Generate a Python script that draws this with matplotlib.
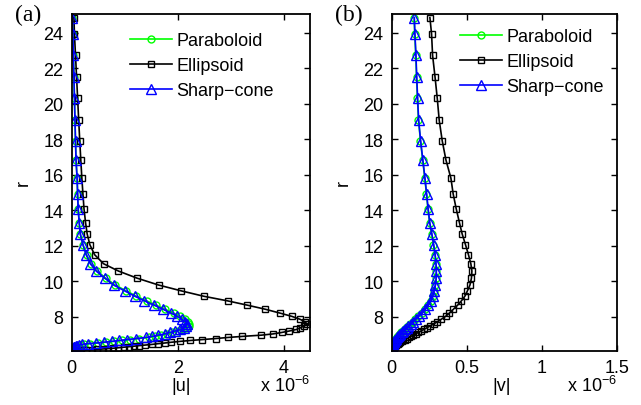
import matplotlib
matplotlib.use("Agg")
import matplotlib.pyplot as plt

plt.rcParams['font.family'] = ['Liberation Sans', 'DejaVu Sans']
plt.rcParams['mathtext.default'] = 'regular'

# radial positions (shared grid for all three bodies)
r = [24.85, 23.94, 22.72, 21.52, 20.31, 19.08, 17.92, 16.83, 15.81, 14.93,
     14.10, 13.30, 12.67, 12.07, 11.50, 10.99, 10.58, 10.18, 9.79, 9.46,
     9.16, 8.90, 8.66, 8.43, 8.21, 8.03, 7.86, 7.72, 7.60, 7.48,
     7.38, 7.29, 7.20, 7.12, 7.04, 6.97, 6.90, 6.84, 6.78, 6.72,
     6.67, 6.62, 6.57, 6.53, 6.49, 6.45, 6.41, 6.38, 6.35, 6.32,
     6.29, 6.26, 6.23, 6.21, 6.19, 6.17, 6.15, 6.13, 6.12, 6.11, 6.10]

# |u| in units of 1e-6
u_para = [0.01, 0.02, 0.03, 0.04, 0.05, 0.06, 0.07, 0.08, 0.10, 0.11,
          0.12, 0.14, 0.16, 0.21, 0.28, 0.36, 0.48, 0.64, 0.82, 1.03,
          1.22, 1.41, 1.59, 1.76, 1.92, 2.04, 2.13, 2.19, 2.22, 2.21,
          2.17, 2.10, 2.00, 1.90, 1.80, 1.68, 1.57, 1.45, 1.27, 1.10,
          0.95, 0.80, 0.64, 0.50, 0.34, 0.23, 0.15, 0.11, 0.08, 0.06,
          0.05, 0.04, 0.03, 0.02, 0.02, 0.01, 0.01, 0.0, 0.0, 0.0, 0.0]
u_ell = [0.04, 0.05, 0.07, 0.09, 0.11, 0.13, 0.15, 0.17, 0.19, 0.21,
         0.23, 0.26, 0.29, 0.34, 0.43, 0.60, 0.88, 1.23, 1.64, 2.07,
         2.49, 2.94, 3.31, 3.65, 3.93, 4.15, 4.31, 4.40, 4.44, 4.38,
         4.31, 4.24, 4.10, 3.96, 3.80, 3.58, 3.22, 2.95, 2.72, 2.46,
         2.24, 2.05, 1.88, 1.76, 1.63, 1.52, 1.38, 1.27, 1.18, 1.08,
         0.98, 0.88, 0.77, 0.68, 0.58, 0.48, 0.38, 0.27, 0.18, 0.09, 0.0]
u_cone = [0.01, 0.02, 0.03, 0.04, 0.05, 0.06, 0.07, 0.08, 0.10, 0.11,
          0.12, 0.14, 0.16, 0.21, 0.27, 0.35, 0.46, 0.62, 0.79, 1.00,
          1.19, 1.37, 1.55, 1.72, 1.87, 1.99, 2.08, 2.14, 2.17, 2.16,
          2.12, 2.05, 1.95, 1.85, 1.75, 1.63, 1.52, 1.40, 1.22, 1.05,
          0.90, 0.75, 0.60, 0.46, 0.30, 0.20, 0.13, 0.10, 0.07, 0.05,
          0.04, 0.03, 0.02, 0.02, 0.01, 0.01, 0.01, 0.0, 0.0, 0.0, 0.0]

# |v| in units of 1e-6
v_para = [0.150, 0.154, 0.161, 0.166, 0.172, 0.179, 0.192, 0.207, 0.221, 0.232,
          0.242, 0.253, 0.267, 0.279, 0.289, 0.295, 0.297, 0.296, 0.291, 0.282,
          0.273, 0.260, 0.243, 0.223, 0.202, 0.178, 0.158, 0.140, 0.125, 0.110,
          0.098, 0.086, 0.075, 0.065, 0.056, 0.048, 0.041, 0.034, 0.028, 0.023,
          0.019, 0.016, 0.013, 0.011, 0.009, 0.007, 0.006, 0.005, 0.004, 0.003,
          0.003, 0.002, 0.002, 0.001, 0.001, 0.0, 0.0, 0.0, 0.0, 0.0, 0.0]
v_ell = [0.255, 0.266, 0.273, 0.289, 0.304, 0.317, 0.337, 0.362, 0.395, 0.410,
         0.430, 0.452, 0.470, 0.492, 0.512, 0.528, 0.535, 0.532, 0.522, 0.505,
         0.488, 0.465, 0.440, 0.412, 0.385, 0.360, 0.330, 0.305, 0.280, 0.255,
         0.234, 0.214, 0.195, 0.177, 0.160, 0.144, 0.128, 0.115, 0.102, 0.089,
         0.078, 0.067, 0.057, 0.049, 0.042, 0.035, 0.029, 0.024, 0.020, 0.016,
         0.013, 0.010, 0.008, 0.006, 0.004, 0.003, 0.002, 0.001, 0.0005, 0.0002, 0.0]
v_cone = [0.151, 0.155, 0.162, 0.167, 0.173, 0.180, 0.193, 0.208, 0.222, 0.233,
          0.243, 0.254, 0.268, 0.280, 0.290, 0.296, 0.298, 0.297, 0.292, 0.283,
          0.275, 0.262, 0.245, 0.225, 0.204, 0.180, 0.160, 0.142, 0.127, 0.112,
          0.100, 0.088, 0.077, 0.067, 0.058, 0.050, 0.042, 0.035, 0.029, 0.024,
          0.020, 0.016, 0.013, 0.011, 0.009, 0.007, 0.006, 0.005, 0.004, 0.003,
          0.003, 0.002, 0.002, 0.001, 0.001, 0.0, 0.0, 0.0, 0.0, 0.0, 0.0]

labels = ['Paraboloid', 'Ellipsoid', 'Sharp\u2212cone']


def draw(ax, xp, xe, xc, xlim, xticks, xticklabels, xlabel, tag, tag_x,
         leg_xy, lab_x):
    ax.plot(xp, r, 'o-', color=(0, 1, 0), mfc='none', ms=5, mew=1.0, lw=1.2,
            label=labels[0])
    ax.plot(xe, r, 's-', color='k', mfc='none', ms=5, mew=1.0, lw=1.2,
            label=labels[1])
    ax.plot(xc, r, '^-', color=(0, 0, 1), mfc='none', ms=6.5, mew=1.0, lw=1.2,
            label=labels[2])
    ax.set_xlim(*xlim)
    ax.set_ylim(6.1, 25.05)
    ax.set_xticks(xticks)
    ax.set_xticklabels(xticklabels)
    ax.set_yticks(range(8, 25, 2))
    ax.tick_params(direction='in', length=4, width=1, top=True, right=True,
                   labelsize=13, pad=6)
    for s in ax.spines.values():
        s.set_linewidth(1.3)
    ax.set_ylabel('r', fontsize=13, labelpad=8)
    ax.set_xlabel(xlabel, fontsize=13)
    ax.xaxis.set_label_coords(lab_x, -0.078)
    ax.text(1.0, -0.12, 'x 10$^{-6}$', transform=ax.transAxes,
            ha='right', va='baseline', fontsize=13)
    ax.text(tag_x, 1.0, tag, transform=ax.transAxes, ha='left', va='center',
            fontsize=17, family=['Liberation Serif', 'DejaVu Serif'])
    ax.legend(loc='upper left', bbox_to_anchor=leg_xy, frameon=False,
              fontsize=13, handlelength=2.3, handletextpad=0.25,
              labelspacing=0.45, borderpad=0, borderaxespad=0)


fig = plt.figure(figsize=(6.41, 4.06), dpi=100)
ax1 = fig.add_axes([0.112, 0.134, 0.372, 0.829])
ax2 = fig.add_axes([0.611, 0.134, 0.351, 0.829])

draw(ax1, u_para, u_ell, u_cone, (0, 4.5), [0, 2, 4], ['0', '2', '4'],
     '|u|', '(a)', -0.238, (0.245, 0.946), 0.459)
draw(ax2, v_para, v_ell, v_cone, (0, 1.5), [0, 0.5, 1, 1.5],
     ['0', '0.5', '1', '1.5'], '|v|', '(b)', -0.252, (0.304, 0.958), 0.49)

fig.savefig('out.png', dpi=100)
